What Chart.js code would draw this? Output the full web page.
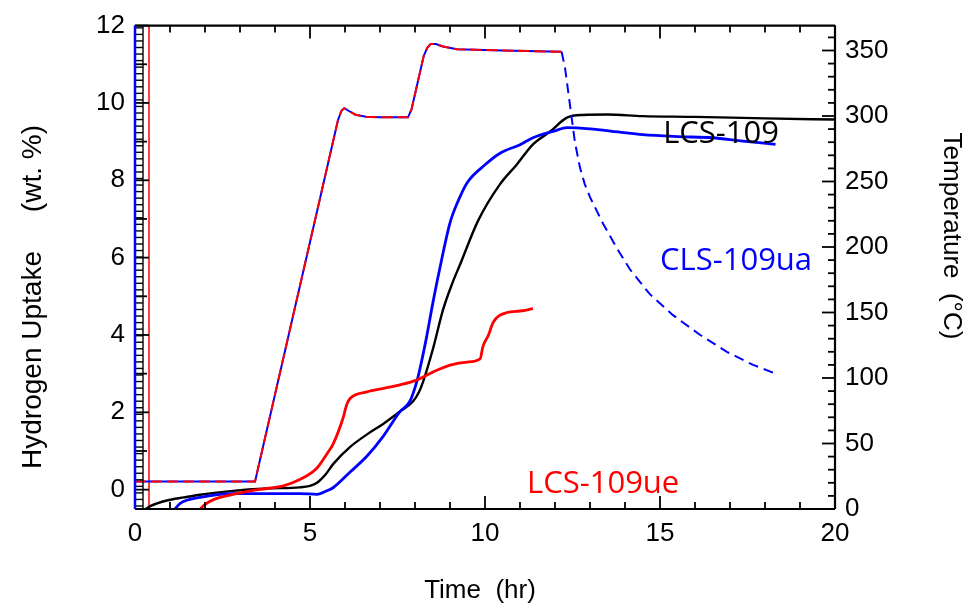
<!DOCTYPE html>
<html>
<head>
<meta charset="utf-8">
<script src="https://cdn.jsdelivr.net/npm/chart.js@4.4.1/dist/chart.umd.min.js"></script>
<style>
  html, body { margin: 0; padding: 0; background: #fff; }
  canvas { display: block; }
</style>
</head>
<body>
<canvas id="chart" width="971" height="604"></canvas>
<script>
// values
const xTicks = [0, 5, 10, 15, 20];
const leftTicks = [0, 2, 4, 6, 8, 10, 12];
const rightTicks = [0, 50, 100, 150, 200, 250, 300, 350];

// temperature program (right axis), shared by both runs
const tempTime = [0, 3.43, 5.8, 5.9, 5.98, 6.1, 6.3, 6.6, 7.0, 7.8, 7.9, 8.25, 8.35, 8.45, 8.6, 8.8, 9.2, 10.5, 12.19,
  12.29, 12.43, 12.57, 12.71, 12.85, 13.0, 13.37, 13.77, 14.14, 14.71, 15.37, 16.14, 16.91, 17.66, 18.34];
const tempVal = [21, 21, 297, 304, 306, 304, 301, 299.5, 299, 299, 305, 346, 352, 355, 355, 353, 351, 350, 349,
  336, 308, 280, 261, 248, 238, 218, 199, 183, 164, 148, 133, 120, 110, 103];
const redTempEnd = 12.19;

// LCS-109 uptake (black)
const lcsTime = [0.3, 0.45, 0.91, 1.4, 1.86, 2.8, 3.77, 4.71, 5.0, 5.2, 5.45, 5.66, 6.14, 6.63, 7.09, 7.57,
  7.94, 8.1, 8.23, 8.51, 8.8, 9.05, 9.3, 9.8, 10.43, 10.91, 11.37, 11.86, 12.34, 12.8, 13.5, 14.5, 16, 18, 20];
const lcsVal = [-0.5, -0.42, -0.28, -0.2, -0.13, -0.03, 0.03, 0.06, 0.1, 0.18, 0.4, 0.66, 1.1, 1.43, 1.7, 2.02,
  2.28, 2.5, 2.79, 3.63, 4.65, 5.3, 5.85, 6.95, 7.9, 8.41, 8.93, 9.26, 9.62, 9.69, 9.7, 9.66, 9.64, 9.6, 9.57];

// CLS-109ua uptake (blue)
const uaTime = [1.14, 1.3, 1.86, 2.8, 3.77, 4.71, 5.2, 5.5, 5.66, 6.14, 6.63, 7.09, 7.57, 7.85, 8.05, 8.14,
  8.34, 8.51, 8.75, 9.0, 9.25, 9.5, 10.0, 10.43, 11.0, 11.37, 12.0, 12.34, 13.0, 13.8, 14.5, 15.5, 16.5, 17.3, 18.3];
const uaVal = [-0.5, -0.35, -0.2, -0.1, -0.1, -0.1, -0.12, -0.02, 0.05, 0.45, 0.87, 1.38, 2.02, 2.28, 2.79, 3.12,
  3.99, 4.83, 5.9, 6.9, 7.5, 7.95, 8.4, 8.7, 8.92, 9.1, 9.28, 9.36, 9.33, 9.25, 9.18, 9.13, 9.1, 9.02, 8.93];

// LCS-109ue uptake (red)
const ueTime = [1.86, 2.0, 2.26, 2.8, 3.3, 3.77, 4.24, 4.71, 5.2, 5.5, 5.66, 5.94, 6.05, 6.14, 6.63, 7.1,
  7.57, 8.06, 8.51, 9.0, 9.49, 9.86, 9.94, 10.1, 10.23, 10.63, 11.0, 11.37];
const ueVal = [-0.5, -0.38, -0.25, -0.12, -0.03, 0.03, 0.1, 0.26, 0.56, 0.95, 1.18, 1.84, 2.2, 2.35, 2.53, 2.62,
  2.71, 2.84, 3.04, 3.22, 3.3, 3.38, 3.7, 4.0, 4.32, 4.58, 4.62, 4.68];

// thin red marker line near t = 0
const markerTime = 0.4;
const markerRange = [-0.5, 12];

// curve labels: [text, time, uptake, colour]
const curveLabels = [
  ['LCS-109', 15.09, 9.18, '#000000'],
  ['CLS-109ua', 15.0, 5.9, '#0000ff'],
  ['LCS-109ue', 11.2, 0.13, '#ff0000']
];

function pts(xs, ys) {
  return xs.map((x, i) => ({ x: x, y: ys[i] }));
}

const tempPts = pts(tempTime, tempVal);
const redTempPts = tempPts.filter(p => p.x <= redTempEnd);

// axis frame, inward ticks and the ladder along the left edge
const framePlugin = {
  id: 'frame',
  afterDraw(chart) {
    const ctx = chart.ctx;
    const a = chart.chartArea;
    const s = chart.scales;
    function seg(x1, y1, x2, y2) {
      ctx.beginPath(); ctx.moveTo(x1, y1); ctx.lineTo(x2, y2); ctx.stroke();
    }
    ctx.save();
    ctx.strokeStyle = '#000';

    // ladder
    ctx.lineWidth = 1.4;
    for (let y = a.bottom - 3; y > a.top; y -= 6.55) seg(a.left, y, a.left + 8, y);
    seg(a.left + 8, a.top, a.left + 8, a.bottom);

    ctx.lineWidth = 1.8;
    for (let t = 0; t <= 20; t++) {
      const px = s.x.getPixelForValue(t);
      const len = t % 5 === 0 ? 13 : 7;
      seg(px, a.bottom, px, a.bottom - len);
      seg(px, a.top, px, a.top + len);
    }
    for (let v = 0; v <= 12; v++) {
      const py = s.y.getPixelForValue(v);
      seg(a.left, py, a.left + (v % 2 === 0 ? 14 : 12), py);
    }
    for (let T = 0; T <= 360; T += 10) {
      const py = s.yT.getPixelForValue(T);
      seg(a.right, py, a.right - (T % 50 === 0 ? 13 : 7), py);
    }

    ctx.lineWidth = 2.2;
    seg(a.left, a.top, a.right, a.top);
    seg(a.left, a.bottom, a.right, a.bottom);
    seg(a.right, a.top, a.right, a.bottom);
    ctx.strokeStyle = '#0000ff';
    ctx.lineWidth = 2.5;
    seg(a.left, a.top, a.left, a.bottom);

    // axis titles
    ctx.fillStyle = '#000';
    ctx.font = '26px "Liberation Sans", Arial, sans-serif';
    ctx.textAlign = 'center';
    ctx.textBaseline = 'middle';
    ctx.fillText('Time  (hr)', 480, 591);
    ctx.save();
    ctx.translate(951, 236);
    ctx.rotate(Math.PI / 2);
    ctx.fillText('Temperature  (\u00b0C)', 0, 0);
    ctx.restore();
    ctx.save();
    ctx.translate(33, 297);
    ctx.rotate(-Math.PI / 2);
    ctx.font = '28px "Liberation Sans", Arial, sans-serif';
    ctx.fillText('Hydrogen Uptake     (wt. %)', 0, 0);
    ctx.restore();

    // curve labels
    ctx.font = '31px "Open Sans", "Noto Sans", sans-serif';
    ctx.textAlign = 'left';
    curveLabels.forEach(l => {
      ctx.fillStyle = l[3];
      ctx.fillText(l[0], s.x.getPixelForValue(l[1]), s.y.getPixelForValue(l[2]));
    });
    ctx.restore();
  }
};

const tickFont = { family: '"Liberation Sans", Arial, sans-serif', size: 26 };

new Chart(document.getElementById('chart'), {
  type: 'line',
  data: {
    datasets: [
      {
        data: redTempPts, yAxisID: 'yT', borderColor: '#ff0000', borderWidth: 2,
        borderDash: [11, 5], pointRadius: 0, tension: 0, order: 0
      },
      {
        data: tempPts, yAxisID: 'yT', borderColor: '#0000ff', borderWidth: 2,
        pointRadius: 0, tension: 0, order: 1,
        segment: { borderDash: c => (c.p0.parsed.x < redTempEnd ? [] : [10, 6]) }
      },
      {
        data: pts(ueTime, ueVal), yAxisID: 'y', borderColor: '#ff0000', borderWidth: 2.8,
        pointRadius: 0, cubicInterpolationMode: 'monotone', order: 2
      },
      {
        data: pts(uaTime, uaVal), yAxisID: 'y', borderColor: '#0000ff', borderWidth: 2.8,
        pointRadius: 0, cubicInterpolationMode: 'monotone', order: 3
      },
      {
        data: pts(lcsTime, lcsVal), yAxisID: 'y', borderColor: '#000000', borderWidth: 2.4,
        pointRadius: 0, cubicInterpolationMode: 'monotone', order: 4
      },
      {
        data: pts([markerTime, markerTime], markerRange), yAxisID: 'y', borderColor: '#ff0000',
        borderWidth: 1.5, pointRadius: 0, order: 5
      }
    ]
  },
  options: {
    responsive: false,
    animation: false,
    events: [],
    layout: { padding: { top: 20, left: 0, right: 0, bottom: 0 } },
    plugins: { legend: { display: false }, tooltip: { enabled: false } },
    scales: {
      x: {
        type: 'linear', min: 0, max: 20,
        grid: { display: false, drawTicks: false },
        border: { display: false },
        afterBuildTicks: sc => { sc.ticks = xTicks.map(v => ({ value: v })); },
        afterFit: sc => { sc.height = 95; },
        ticks: { font: tickFont, color: '#000', padding: 9, maxRotation: 0 }
      },
      y: {
        type: 'linear', position: 'left', min: -0.5, max: 12,
        grid: { display: false, drawTicks: false },
        border: { display: false },
        afterBuildTicks: sc => { sc.ticks = leftTicks.map(v => ({ value: v })); },
        afterFit: sc => { sc.width = 135; },
        ticks: { font: tickFont, color: '#000', padding: 10 }
      },
      yT: {
        type: 'linear', position: 'right', min: 0, max: 369,
        grid: { display: false, drawTicks: false },
        border: { display: false },
        afterBuildTicks: sc => { sc.ticks = rightTicks.map(v => ({ value: v })); },
        afterFit: sc => { sc.width = 136; },
        ticks: { font: tickFont, color: '#000', padding: 10 }
      }
    }
  },
  plugins: [framePlugin]
});
</script>
</body>
</html>
